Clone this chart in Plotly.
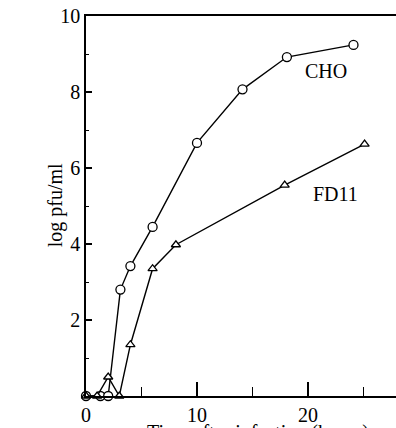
import plotly.graph_objects as go

cho_x = [0, 1.3, 2, 3.1, 4, 6, 10, 14.1, 18.1, 24.1]
cho_y = [0, 0, 0, 2.8, 3.42, 4.45, 6.66, 8.07, 8.92, 9.24]
fd_x = [0, 1, 2, 3, 4, 6, 8.1, 17.9, 25.1]
fd_y = [0, 0, 0.5, 0, 1.35, 3.35, 3.98, 5.55, 6.63]

x_ticks = [0, 10, 20]
x_minor = [5, 15, 25]
y_ticks = [2, 4, 6, 8, 10]
y_minor = [1, 3, 5, 7, 9]

FONT = "Liberation Serif, Times New Roman, serif"

fig = go.Figure()
fig.add_trace(go.Scatter(
    x=cho_x, y=cho_y, mode="lines+markers", name="CHO",
    line=dict(color="black", width=1.4),
    marker=dict(symbol="circle", size=9, color="white",
                line=dict(color="black", width=1.3)),
    cliponaxis=False))
fig.add_trace(go.Scatter(
    x=fd_x, y=fd_y, mode="lines+markers", name="FD11",
    line=dict(color="black", width=1.4),
    marker=dict(symbol="triangle-up", size=8, color="white",
                line=dict(color="black", width=1.3)),
    cliponaxis=False))

fig.add_annotation(x=21.6, y=8.55, text="CHO", showarrow=False,
                   font=dict(family=FONT, size=20, color="black"))
fig.add_annotation(x=22.5, y=5.32, text="FD11", showarrow=False,
                   font=dict(family=FONT, size=20, color="black"))
fig.add_annotation(xref="paper", yref="paper", x=-0.142, y=0.503,
                   text="log pfu/ml", textangle=-90, showarrow=False,
                   font=dict(family=FONT, size=20, color="black"))
fig.add_annotation(xref="paper", yref="paper", x=0.555, y=-0.061,
                   yanchor="top", text="Time after infection (hours)",
                   showarrow=False,
                   font=dict(family=FONT, size=20, color="black"))

fig.update_layout(
    width=396, height=428,
    margin=dict(l=86, r=0, t=16, b=32),
    paper_bgcolor="white", plot_bgcolor="white",
    showlegend=False,
    font=dict(family=FONT, size=20, color="black"),
    xaxis=dict(range=[0, 27.93], tickvals=x_ticks, ticks="inside", ticklen=14,
               tickwidth=1.5, tickcolor="black", showline=True, linecolor="black",
               linewidth=1.5, mirror=True, showgrid=False, zeroline=False,
               minor=dict(tickvals=x_minor, ticks="inside", ticklen=9,
                          tickwidth=1.2, tickcolor="black")),
    yaxis=dict(range=[0, 10], tickvals=y_ticks, ticks="inside", ticklen=6,
               tickwidth=1.5, tickcolor="black", showline=True, linecolor="black",
               linewidth=1.5, showgrid=False, zeroline=False,
               minor=dict(tickvals=y_minor, ticks="inside", ticklen=3,
                          tickwidth=1.2, tickcolor="black")),
)

fig.write_html("out.html")
